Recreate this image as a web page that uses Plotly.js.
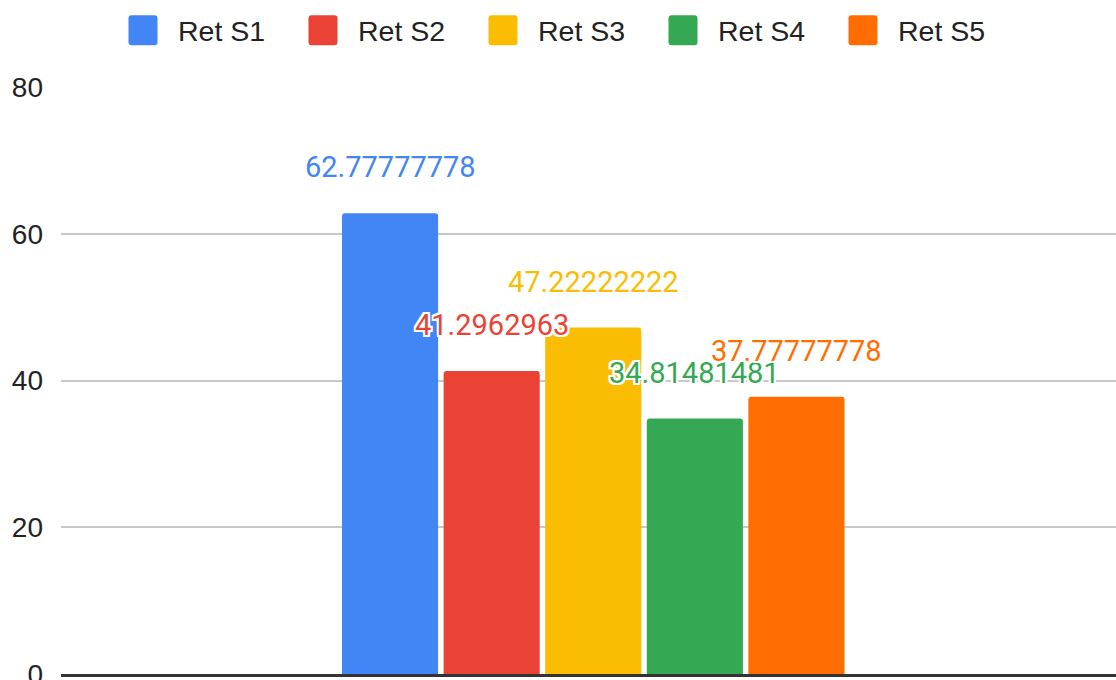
<!DOCTYPE html>
<html>
<head>
<meta charset="utf-8">
<script src="https://cdn.plot.ly/plotly-3.0.1.min.js"></script>
<style>
  html, body { margin: 0; padding: 0; background: #fff; overflow: hidden; }
  #chart { width: 1116px; height: 680px; }
  /* larger rounded legend swatches like the reference */
  #chart .legend .legendpoints path {
    d: path("M-11.5,-15H11.5Q14.5,-15 14.5,-12V12Q14.5,15 11.5,15H-11.5Q-14.5,15 -14.5,12V-12Q-14.5,-15 -11.5,-15Z");
  }
</style>
</head>
<body>
<div id="chart"></div>
<script>
// ---- data ----
const categories = ['Ret'];
const seriesNames = ['Ret S1', 'Ret S2', 'Ret S3', 'Ret S4', 'Ret S5'];
const seriesValues = [62.77777778, 41.2962963, 47.22222222, 34.81481481, 37.77777778];
const seriesColors = ['#4285F4', '#EA4335', '#FBBC04', '#34A853', '#FF6D01'];
const yTickValues = [0, 20, 40, 60, 80];

// ---- layout parameters ----
const bargap = 0.5185;
const bargroupgap = 0.054;
const xShift = 0.0045;
const nSeries = seriesNames.length;

const traces = seriesNames.map((name, i) => ({
  type: 'bar',
  name: name,
  x: categories,
  y: [seriesValues[i]],
  marker: { color: seriesColors[i], cornerradius: 3 },
  hoverinfo: 'name+y'
}));

// data labels above bars (positioned from the same group geometry the library uses)
const groupWidth = 1 - bargap;
const slot = groupWidth / nSeries;
const annotations = seriesValues.map((v, i) => ({
  xref: 'x', yref: 'y',
  x: -groupWidth / 2 + (i + 0.5) * slot,
  y: v,
  yshift: 46,
  yanchor: 'middle',
  xanchor: 'center',
  showarrow: false,
  text: String(v),
  font: {
    family: 'Roboto, sans-serif', size: 29, color: seriesColors[i],
    shadow: '2px 0 0 #fff, -2px 0 0 #fff, 0 2px 0 #fff, 0 -2px 0 #fff, 2px 2px 0 #fff, -2px -2px 0 #fff, 2px -2px 0 #fff, -2px 2px 0 #fff'
  }
}));

const layout = {
  width: 1116,
  height: 680,
  margin: { l: 61, r: 0, t: 87, b: 6, pad: 0 },
  paper_bgcolor: '#ffffff',
  plot_bgcolor: '#ffffff',
  barmode: 'group',
  bargap: bargap,
  bargroupgap: bargroupgap,
  showlegend: true,
  legend: {
    orientation: 'h',
    xref: 'container', yref: 'container',
    x: 0.5, xanchor: 'center',
    y: 0.9925, yanchor: 'top',
    itemwidth: 60,
    entrywidth: 105,
    entrywidthmode: 'pixels',
    font: { family: '"Liberation Sans", Arial, sans-serif', size: 28.5, color: '#222222' },
    itemclick: false, itemdoubleclick: false
  },
  xaxis: {
    type: 'category',
    range: [-0.5 - xShift, 0.5 - xShift],
    showticklabels: false,
    showgrid: false,
    zeroline: false,
    showline: true,
    linecolor: '#333333',
    linewidth: 2.5,
    fixedrange: true
  },
  yaxis: {
    range: [0, 80],
    tickvals: yTickValues,
    ticktext: yTickValues.map(String),
    showgrid: true,
    gridcolor: '#c8c8c8',
    gridwidth: 2,
    zeroline: false,
    showline: false,
    ticks: '',
    ticklabelstandoff: 17,
    ticklabeloverflow: 'allow',
    tickfont: { family: '"Liberation Sans", Arial, sans-serif', size: 28, color: '#222222' },
    fixedrange: true
  },
  annotations: annotations
};

Plotly.newPlot('chart', traces, layout, { displayModeBar: false, responsive: false });
</script>
</body>
</html>
